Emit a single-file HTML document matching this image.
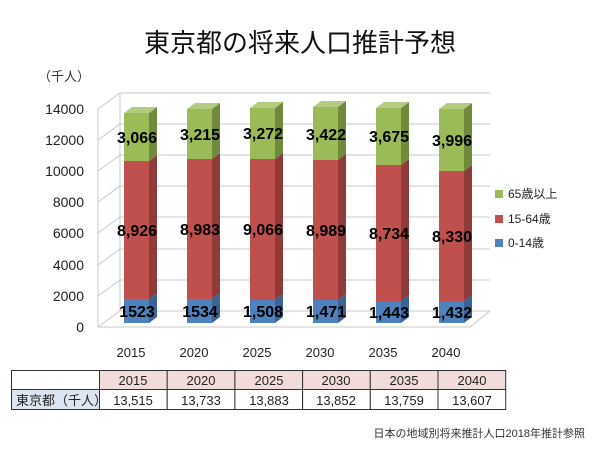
<!DOCTYPE html>
<html><head><meta charset="utf-8"><style>
body{margin:0;background:#fff;width:600px;height:450px;overflow:hidden}
svg text{font-family:"Liberation Sans","Noto Sans CJK JP",sans-serif}
.v{font-size:16px;font-weight:bold;text-anchor:middle;fill:#000}
.t{font-size:13px;text-anchor:middle;fill:#222}
</style></head><body>
<svg width="600" height="450" viewBox="0 0 600 450" xmlns="http://www.w3.org/2000/svg">
<text x="300" y="52" font-size="26" text-anchor="middle" fill="#111">東京都の将来人口推計予想</text>
<text x="38" y="81" font-size="13" fill="#333">（千人）</text>
<g stroke="#c8c8c8" stroke-width="1" fill="none">
<path d="M98 327 L120 311 L490 311"/>
<path d="M98 296 L120 280 L490 280"/>
<path d="M98 265 L120 249 L490 249"/>
<path d="M98 233 L120 217 L490 217"/>
<path d="M98 202 L120 186 L490 186"/>
<path d="M98 171 L120 155 L490 155"/>
<path d="M98 140 L120 124 L490 124"/>
<path d="M98 109 L120 93 L490 93"/>
<path d="M120 93 L120 311"/>
<path d="M98 109 L98 327 L470 327 L490 311"/>
</g>
<g font-size="14" fill="#222" text-anchor="end">
<text x="84" y="332">0</text><text x="84" y="301">2000</text><text x="84" y="270">4000</text>
<text x="84" y="238">6000</text><text x="84" y="207">8000</text><text x="84" y="176">10000</text>
<text x="84" y="145">12000</text><text x="84" y="114">14000</text>
</g>

<g transform="translate(124,0)">
<rect x="0" y="299" width="25" height="24" fill="#4f81bd"/><polygon points="25,323 33,317 33,293 25,299" fill="#3a6496"/>
<rect x="0" y="161" width="25" height="138" fill="#c0504d"/><polygon points="25,299 33,293 33,155 25,161" fill="#8e3b39"/>
<rect x="0" y="113" width="25" height="48" fill="#9bbb59"/><polygon points="25,161 33,155 33,107 25,113" fill="#6f8a3c"/><polygon points="0,113 8,107 33,107 25,113" fill="#b3cc80"/>
<text class="v" x="13" y="317">1523</text><text class="v" x="13" y="236">8,926</text><text class="v" x="13" y="143">3,066</text>
</g>
<g transform="translate(187,0)">
<rect x="0" y="299" width="25" height="24" fill="#4f81bd"/><polygon points="25,323 33,317 33,293 25,299" fill="#3a6496"/>
<rect x="0" y="159" width="25" height="140" fill="#c0504d"/><polygon points="25,299 33,293 33,153 25,159" fill="#8e3b39"/>
<rect x="0" y="109" width="25" height="50" fill="#9bbb59"/><polygon points="25,159 33,153 33,103 25,109" fill="#6f8a3c"/><polygon points="0,109 8,103 33,103 25,109" fill="#b3cc80"/>
<text class="v" x="13" y="317">1534</text><text class="v" x="13" y="235">8,983</text><text class="v" x="13" y="140">3,215</text>
</g>
<g transform="translate(250,0)">
<rect x="0" y="300" width="25" height="23" fill="#4f81bd"/><polygon points="25,323 33,317 33,294 25,300" fill="#3a6496"/>
<rect x="0" y="159" width="25" height="141" fill="#c0504d"/><polygon points="25,300 33,294 33,153 25,159" fill="#8e3b39"/>
<rect x="0" y="108" width="25" height="51" fill="#9bbb59"/><polygon points="25,159 33,153 33,102 25,108" fill="#6f8a3c"/><polygon points="0,108 8,102 33,102 25,108" fill="#b3cc80"/>
<text class="v" x="13" y="317">1,508</text><text class="v" x="13" y="235">9,066</text><text class="v" x="13" y="139">3,272</text>
</g>
<g transform="translate(313,0)">
<rect x="0" y="300" width="25" height="23" fill="#4f81bd"/><polygon points="25,323 33,317 33,294 25,300" fill="#3a6496"/>
<rect x="0" y="160" width="25" height="140" fill="#c0504d"/><polygon points="25,300 33,294 33,154 25,160" fill="#8e3b39"/>
<rect x="0" y="107" width="25" height="53" fill="#9bbb59"/><polygon points="25,160 33,154 33,101 25,107" fill="#6f8a3c"/><polygon points="0,107 8,101 33,101 25,107" fill="#b3cc80"/>
<text class="v" x="13" y="317">1,471</text><text class="v" x="13" y="236">8,989</text><text class="v" x="13" y="140">3,422</text>
</g>
<g transform="translate(376,0)">
<rect x="0" y="301" width="25" height="22" fill="#4f81bd"/><polygon points="25,323 33,317 33,295 25,301" fill="#3a6496"/>
<rect x="0" y="165" width="25" height="136" fill="#c0504d"/><polygon points="25,301 33,295 33,159 25,165" fill="#8e3b39"/>
<rect x="0" y="108" width="25" height="57" fill="#9bbb59"/><polygon points="25,165 33,159 33,102 25,108" fill="#6f8a3c"/><polygon points="0,108 8,102 33,102 25,108" fill="#b3cc80"/>
<text class="v" x="13" y="318">1,443</text><text class="v" x="13" y="239">8,734</text><text class="v" x="13" y="142">3,675</text>
</g>
<g transform="translate(439,0)">
<rect x="0" y="301" width="25" height="22" fill="#4f81bd"/><polygon points="25,323 33,317 33,295 25,301" fill="#3a6496"/>
<rect x="0" y="171" width="25" height="130" fill="#c0504d"/><polygon points="25,301 33,295 33,165 25,171" fill="#8e3b39"/>
<rect x="0" y="109" width="25" height="62" fill="#9bbb59"/><polygon points="25,171 33,165 33,103 25,109" fill="#6f8a3c"/><polygon points="0,109 8,103 33,103 25,109" fill="#b3cc80"/>
<text class="v" x="13" y="318">1,432</text><text class="v" x="13" y="242">8,330</text><text class="v" x="13" y="146">3,996</text>
</g>

<g font-size="13" fill="#222" text-anchor="middle">
<text x="131" y="357">2015</text><text x="194" y="357">2020</text><text x="257" y="357">2025</text>
<text x="320" y="357">2030</text><text x="383" y="357">2035</text><text x="446" y="357">2040</text>
</g>
<g font-size="12" fill="#222">
<rect x="495" y="190" width="8" height="8" fill="#9bbb59"/><text x="508" y="198">65歳以上</text>
<rect x="495" y="215" width="8" height="8" fill="#c0504d"/><text x="508" y="223">15-64歳</text>
<rect x="495" y="239" width="8" height="8" fill="#4f81bd"/><text x="508" y="247">0-14歳</text>
</g>
<g stroke="#333" stroke-width="1">
<rect x="11.5" y="370.5" width="88" height="19" fill="#fff"/>
<rect x="11.5" y="389.5" width="88" height="20" fill="#dce6f2"/>
<rect x="99.5" y="370.5" width="67.7" height="19" fill="#f2dcdb"/><rect x="99.5" y="389.5" width="67.7" height="20" fill="#fff"/>
<rect x="167.2" y="370.5" width="67.7" height="19" fill="#f2dcdb"/><rect x="167.2" y="389.5" width="67.7" height="20" fill="#fff"/>
<rect x="234.9" y="370.5" width="67.7" height="19" fill="#f2dcdb"/><rect x="234.9" y="389.5" width="67.7" height="20" fill="#fff"/>
<rect x="302.6" y="370.5" width="67.7" height="19" fill="#f2dcdb"/><rect x="302.6" y="389.5" width="67.7" height="20" fill="#fff"/>
<rect x="370.3" y="370.5" width="67.7" height="19" fill="#f2dcdb"/><rect x="370.3" y="389.5" width="67.7" height="20" fill="#fff"/>
<rect x="438" y="370.5" width="67.7" height="19" fill="#f2dcdb"/><rect x="438" y="389.5" width="67.7" height="20" fill="#fff"/>
</g>
<text class="t" x="133" y="385">2015</text><text class="t" x="133" y="405">13,515</text>
<text class="t" x="201" y="385">2020</text><text class="t" x="201" y="405">13,733</text>
<text class="t" x="269" y="385">2025</text><text class="t" x="269" y="405">13,883</text>
<text class="t" x="336" y="385">2030</text><text class="t" x="336" y="405">13,852</text>
<text class="t" x="404" y="385">2035</text><text class="t" x="404" y="405">13,759</text>
<text class="t" x="472" y="385">2040</text><text class="t" x="472" y="405">13,607</text>
<text x="16" y="405" font-size="13" fill="#222">東京都（千人）</text>
<text x="585" y="437" font-size="11" fill="#333" text-anchor="end">日本の地域別将来推計人口2018年推計参照</text>
</svg>
</body></html>
